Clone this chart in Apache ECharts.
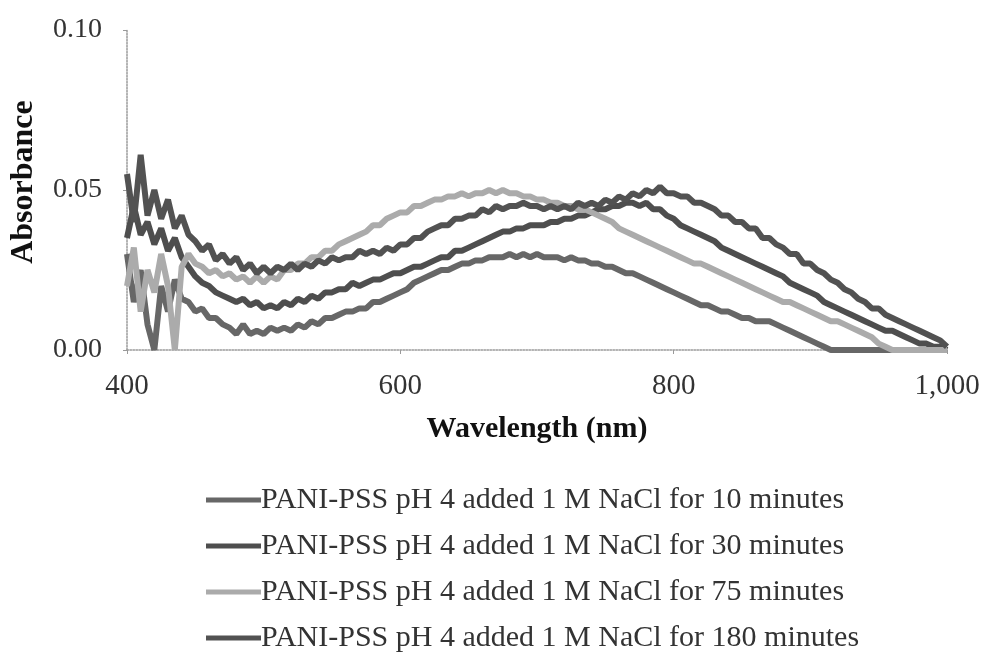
<!DOCTYPE html>
<html>
<head>
<meta charset="utf-8">
<script src="https://cdn.jsdelivr.net/npm/echarts@6/dist/echarts.min.js"></script>
<style>
html,body{margin:0;padding:0;background:#fff;}
#chart{width:986px;height:662px;}
</style>
</head>
<body>
<div id="chart"></div>
<script>
// Wavelength grid (nm), 5 nm step
const wavelengths = [];
for (let w = 400; w <= 1000; w += 5) wavelengths.push(w);

const seriesNames = [
  "PANI-PSS pH 4 added 1 M NaCl for 10 minutes",
  "PANI-PSS pH 4 added 1 M NaCl for 30 minutes",
  "PANI-PSS pH 4 added 1 M NaCl for 75 minutes",
  "PANI-PSS pH 4 added 1 M NaCl for 180 minutes"
];

const xTickLabels = {400: "400", 600: "600", 800: "800", 1000: "1,000"};
const yTickLabels = {0: "0.00", 0.05: "0.05", 0.1: "0.10"};

// 10 minutes (400..1000 nm)
const abs10 = [
  0.030,0.015,0.025,0.008,0.000,0.020,0.012,0.022,0.016,0.015,
  0.012,0.013,0.010,0.010,0.008,0.007,0.005,0.008,0.005,0.006,
  0.005,0.007,0.006,0.007,0.006,0.008,0.007,0.009,0.008,0.010,
  0.010,0.011,0.012,0.012,0.013,0.013,0.015,0.015,0.016,0.017,
  0.018,0.019,0.021,0.022,0.023,0.024,0.025,0.025,0.026,0.027,
  0.027,0.028,0.028,0.029,0.029,0.029,0.030,0.029,0.030,0.029,
  0.030,0.029,0.029,0.029,0.028,0.029,0.028,0.028,0.027,0.027,
  0.026,0.026,0.025,0.024,0.024,0.023,0.022,0.021,0.020,0.019,
  0.018,0.017,0.016,0.015,0.014,0.014,0.013,0.012,0.012,0.011,
  0.010,0.010,0.009,0.009,0.009,0.008,0.007,0.006,0.005,0.004,
  0.003,0.002,0.001,0.000,0.000,0.000,0.000,0.000,0.000,0.000,
  0.000,0.000,0.000,0.000,0.000,0.000,0.000,0.000,0.000,0.000,
  0.000
];

// 30 minutes
const abs30 = [
  0.035,0.045,0.036,0.040,0.033,0.038,0.031,0.035,0.029,0.026,
  0.023,0.021,0.020,0.018,0.017,0.016,0.015,0.016,0.014,0.015,
  0.013,0.014,0.013,0.015,0.014,0.016,0.015,0.017,0.016,0.018,
  0.018,0.019,0.019,0.021,0.020,0.021,0.022,0.022,0.023,0.024,
  0.024,0.025,0.026,0.026,0.027,0.028,0.029,0.029,0.031,0.031,
  0.032,0.033,0.034,0.035,0.036,0.037,0.037,0.038,0.038,0.039,
  0.039,0.039,0.040,0.040,0.041,0.041,0.042,0.042,0.043,0.044,
  0.044,0.045,0.045,0.046,0.046,0.045,0.046,0.044,0.044,0.042,
  0.041,0.039,0.038,0.037,0.036,0.035,0.034,0.032,0.031,0.030,
  0.029,0.028,0.027,0.026,0.025,0.024,0.023,0.021,0.020,0.019,
  0.018,0.017,0.015,0.014,0.013,0.012,0.011,0.010,0.009,0.008,
  0.007,0.006,0.006,0.005,0.004,0.003,0.002,0.002,0.001,0.001,
  0.000
];

// 75 minutes
const abs75 = [
  0.020,0.032,0.012,0.025,0.018,0.030,0.020,0.000,0.026,0.030,
  0.027,0.026,0.024,0.025,0.023,0.024,0.022,0.023,0.021,0.023,
  0.021,0.023,0.022,0.025,0.025,0.027,0.027,0.029,0.029,0.031,
  0.031,0.033,0.034,0.035,0.036,0.037,0.039,0.039,0.041,0.042,
  0.043,0.043,0.045,0.045,0.046,0.047,0.047,0.048,0.048,0.049,
  0.048,0.049,0.049,0.050,0.049,0.050,0.049,0.049,0.048,0.048,
  0.047,0.047,0.046,0.046,0.045,0.045,0.044,0.044,0.043,0.042,
  0.041,0.040,0.038,0.037,0.036,0.035,0.034,0.033,0.032,0.031,
  0.030,0.029,0.028,0.027,0.027,0.026,0.025,0.024,0.023,0.022,
  0.021,0.020,0.019,0.018,0.017,0.016,0.015,0.015,0.014,0.013,
  0.012,0.011,0.010,0.009,0.009,0.008,0.007,0.006,0.005,0.004,
  0.002,0.001,0.000,0.000,0.000,0.000,0.000,0.000,0.000,0.000,
  0.000
];

// 180 minutes
const abs180 = [
  0.055,0.040,0.061,0.042,0.050,0.041,0.047,0.038,0.042,0.036,
  0.034,0.031,0.033,0.028,0.030,0.027,0.029,0.025,0.027,0.024,
  0.026,0.024,0.026,0.025,0.027,0.025,0.027,0.026,0.028,0.027,
  0.029,0.028,0.029,0.029,0.031,0.030,0.031,0.030,0.032,0.031,
  0.033,0.033,0.035,0.035,0.037,0.038,0.039,0.039,0.041,0.041,
  0.042,0.042,0.044,0.043,0.045,0.044,0.045,0.045,0.046,0.045,
  0.045,0.044,0.045,0.044,0.045,0.044,0.046,0.045,0.046,0.045,
  0.047,0.046,0.048,0.047,0.049,0.048,0.050,0.049,0.051,0.049,
  0.049,0.048,0.048,0.046,0.046,0.045,0.044,0.042,0.042,0.040,
  0.040,0.038,0.038,0.035,0.035,0.033,0.032,0.030,0.030,0.027,
  0.027,0.025,0.024,0.022,0.021,0.019,0.018,0.016,0.015,0.013,
  0.013,0.011,0.010,0.009,0.008,0.007,0.006,0.005,0.004,0.003,
  0.001
];

const seriesValues = [abs10, abs30, abs75, abs180];
const seriesColors = ["#676767", "#4e4e4e", "#ababab", "#525252"];
const legendTops = [485, 531, 577, 623];

const chart = echarts.init(document.getElementById('chart'), null, {renderer: 'canvas'});

const serif = "'Liberation Serif', 'DejaVu Serif', serif";

const series = seriesNames.map((name, i) => ({
  name: name,
  type: 'line',
  data: wavelengths.map((w, j) => [w, seriesValues[i][j]]),
  showSymbol: false,
  symbol: 'none',
  lineStyle: {width: 6, color: seriesColors[i]},
  itemStyle: {color: seriesColors[i]},
  clip: true,
  animation: false
}));

const legends = seriesNames.map((name, i) => ({
  orient: 'vertical',
  left: 206,
  top: legendTops[i],
  itemWidth: 55,
  itemHeight: 5,
  icon: 'rect',
  padding: 0,
  selectedMode: false,
  textStyle: {fontFamily: serif, fontSize: 30, color: '#333', padding: [0, 0, 0, -5]},
  data: [name]
}));

chart.setOption({
  animation: false,
  backgroundColor: '#ffffff',
  grid: {left: 125, right: 39, top: 30, bottom: 312, containLabel: false},
  xAxis: {
    type: 'value',
    min: 400, max: 1000, interval: 200,
    name: 'Wavelength (nm)',
    nameLocation: 'middle',
    nameGap: 64,
    nameMoveOverlap: false,
    nameTextStyle: {fontFamily: serif, fontWeight: 'bold', fontSize: 30, color: '#111'},
    axisLine: {show: true, lineStyle: {color: '#9a9a9a', width: 1.5, type: 'dotted'}},
    axisTick: {show: true, length: 4, lineStyle: {color: '#9a9a9a'}},
    axisLabel: {
      fontFamily: serif, fontSize: 29, color: '#333', margin: 22,
      formatter: v => xTickLabels[v] !== undefined ? xTickLabels[v] : ''
    },
    splitLine: {show: false}
  },
  yAxis: {
    type: 'value',
    min: 0, max: 0.1, interval: 0.05,
    name: 'Absorbance',
    nameLocation: 'middle',
    nameGap: 87,
    nameMoveOverlap: false,
    nameTextStyle: {fontFamily: serif, fontWeight: 'bold', fontSize: 32, color: '#111', padding: [0, 0, 0, 16]},
    axisLine: {show: true, lineStyle: {color: '#9a9a9a', width: 1.5, type: 'dotted'}},
    axisTick: {show: true, length: 4, lineStyle: {color: '#9a9a9a'}},
    axisLabel: {
      fontFamily: serif, fontSize: 28, color: '#333', margin: 25,
      formatter: v => {
        const k = Math.round(v * 100) / 100;
        return yTickLabels[k] !== undefined ? yTickLabels[k] : '';
      }
    },
    splitLine: {show: false}
  },
  legend: legends,
  series: series
});
</script>
</body>
</html>
